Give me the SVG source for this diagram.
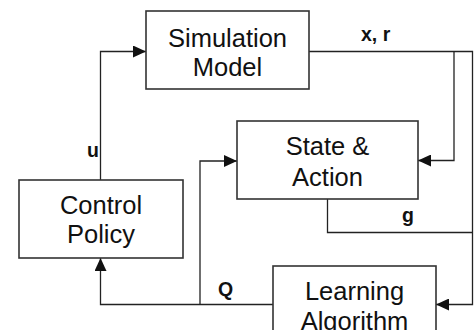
<svg xmlns="http://www.w3.org/2000/svg" width="474" height="330" viewBox="0 0 474 330">
<style>
.box{fill:#fff;stroke:#333;stroke-width:1.6}
.ln{fill:none;stroke:#222;stroke-width:1.3}
.t{font-family:"Liberation Sans",Arial,sans-serif;font-size:25.5px;fill:#111;text-anchor:middle}
.lb{font-family:"Liberation Sans",Arial,sans-serif;font-size:19.5px;font-weight:bold;fill:#111}
</style>
<defs>
<marker id="ah" markerWidth="13" markerHeight="12" refX="13" refY="6" orient="auto" markerUnits="userSpaceOnUse">
<path d="M0,0 L13,6 L0,12 Z" fill="#111"/>
</marker>
</defs>
<g id="connectors">
<path class="ln" d="M100.5,180 V51.5 H146" marker-end="url(#ah)"/>
<path class="ln" d="M309,51.5 H472.5 V304.5 H436" marker-end="url(#ah)"/>
<path class="ln" d="M454,51.5 V160.5 H418" marker-end="url(#ah)"/>
<path class="ln" d="M327.5,199 V232.5 H472.5"/>
<path class="ln" d="M273,304.5 H100.5 V258" marker-end="url(#ah)"/>
<path class="ln" d="M200,304.5 V161 H237" marker-end="url(#ah)"/>
<text class="lb" x="361" y="41">x, r</text>
<text class="lb" x="87" y="157">u</text>
<text class="lb" x="402" y="222">g</text>
<text class="lb" x="218" y="296">Q</text>
</g>
<g id="simulation-model">
<rect class="box" x="146" y="11" width="163" height="78"/>
<text class="t" x="227.5" y="47">Simulation</text>
<text class="t" x="227.5" y="76">Model</text>
</g>
<g id="state-action">
<rect class="box" x="237" y="121" width="181" height="78"/>
<text class="t" x="327.5" y="155">State &amp;</text>
<text class="t" x="327.5" y="186">Action</text>
</g>
<g id="control-policy">
<rect class="box" x="19" y="180" width="164" height="78"/>
<text class="t" x="101" y="214">Control</text>
<text class="t" x="101" y="243">Policy</text>
</g>
<g id="learning-algorithm">
<rect class="box" x="273" y="266" width="163" height="80"/>
<text class="t" x="354.5" y="300">Learning</text>
<text class="t" x="354.5" y="330">Algorithm</text>
</g>
</svg>
